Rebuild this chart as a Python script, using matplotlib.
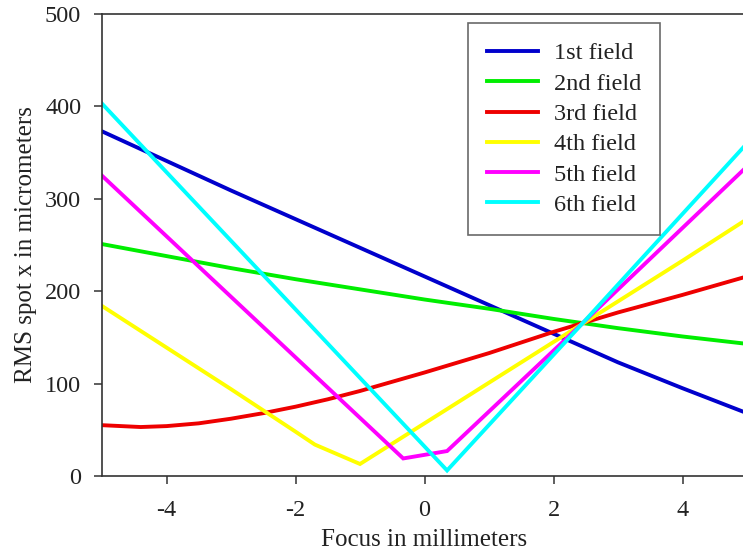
import matplotlib
matplotlib.use("Agg")
import matplotlib.pyplot as plt

plt.rcParams['font.family'] = ['Liberation Serif', 'DejaVu Serif']
plt.rcParams['axes.unicode_minus'] = False

labels = ["1st field", "2nd field", "3rd field", "4th field", "5th field", "6th field"]
colors = ["#0000CC", "#00EE00", "#EE0000", "#FFFF00", "#FF00FF", "#00FFFF"]

x1 = [-5, -4, -3, -2, -1, 0, 1, 2, 3, 4, 5]
y1 = [373, 341, 309, 278, 247, 216, 185, 154, 123, 95, 68]

x2 = [-5, -4, -3, -2, -1, 0, 1, 2, 3, 4, 5]
y2 = [251, 238, 225, 213, 202, 191, 181, 170, 160, 151, 143]

x3 = [-5, -4.4, -4, -3.5, -3, -2.5, -2, -1.5, -1, -0.5, 0, 1, 2, 3, 4, 5]
y3 = [55, 53, 54, 57, 62, 68, 75, 83, 92, 102, 112, 133, 156, 177, 196, 216]

x4 = [-5, -4, -3, -2, -1.7, -1, 0, 1, 2, 3, 4, 5]
y4 = [184, 139, 94, 48, 34, 13, 57, 101, 145, 189, 233, 278]

x5 = [-5, -0.33, 0.35, 2.46, 5]
y5 = [325, 19, 27, 166, 335]

x6 = [-5, 0.35, 2.46, 5]
y6 = [403, 6, 166, 360]

series = [(x1, y1), (x2, y2), (x3, y3), (x4, y4), (x5, y5), (x6, y6)]

fig = plt.figure(figsize=(7.43, 5.54), dpi=100)
ax = fig.add_axes([102/743, 78/554, 645/743, 462/554])

for (xs, ys), c, lab in zip(series, colors, labels):
    ax.plot(xs, ys, color=c, lw=2.8, label=lab, solid_joinstyle='miter')

ax.set_xlim(-5, 5)
ax.set_ylim(0, 500)
ax.set_xticks([-4, -2, 0, 2, 4])
ax.set_yticks([0, 100, 200, 300, 400, 500])

for s in ax.spines.values():
    s.set_color('#333333')
    s.set_linewidth(1.2)

ax.tick_params(axis='both', direction='out', length=6, width=1.1, color='#333333',
               labelsize=17.5, labelcolor='#222222')
ax.tick_params(axis='x', pad=11)
ax.tick_params(axis='y', pad=9)

ax.set_xlabel("Focus in millimeters", fontsize=18, color='#222222', labelpad=6)
ax.set_ylabel("RMS spot x in micrometers", fontsize=18, color='#222222', labelpad=6)

leg = ax.legend(loc='upper left', bbox_to_anchor=((468-102)/645, (476-23)/462),
                fontsize=17.5, frameon=True, fancybox=False, handlelength=2.1,
                handletextpad=0.62, labelspacing=0.34, borderpad=0.8,
                borderaxespad=0)
leg.get_frame().set_edgecolor('#444444')
leg.get_frame().set_linewidth(1.2)
for t in leg.get_texts():
    t.set_color('#222222')

fig.savefig("out.png", dpi=100)
